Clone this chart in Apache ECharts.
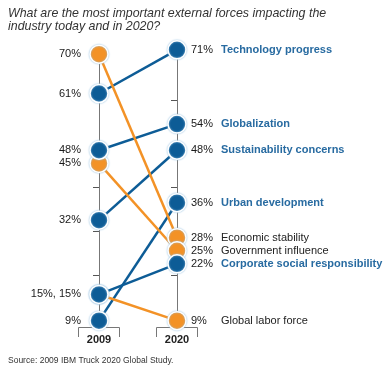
<!DOCTYPE html>
<html><head><meta charset="utf-8">
<script src="https://cdn.jsdelivr.net/npm/echarts@6/dist/echarts.min.js"></script>
<style>html,body{margin:0;padding:0;background:#fff}#c{width:389px;height:366px}</style>
</head><body><div id="c"></div>
<script>
const years = ['2009', '2020'];
const forces = ['Technology progress', 'Globalization', 'Sustainability concerns', 'Urban development',
  'Economic stability', 'Government influence', 'Corporate social responsibility', 'Global labor force'];
const values2009 = [61, 48, 32, 9, 70, 45, 15, 15];
const values2020 = [71, 54, 48, 36, 28, 25, 22, 9];
const groups = ['blue', 'blue', 'blue', 'blue', 'orange', 'orange', 'blue', 'orange'];
const tickValues = [9.5, 19.5, 29.5, 39.5, 49.5, 59.5];
const titleText = 'What are the most important external forces impacting the\nindustry today and in 2020?';
const sourceText = 'Source: 2009 IBM Truck 2020 Global Study.';

const COLORS = { blue: '#0d5c96', orange: '#f39226' };
const NAME_COLORS = { blue: '#286ba1', orange: '#222' };
const FONT = '"Liberation Sans", Arial, sans-serif';
const Y_MIN = 7.55, Y_MAX = 71;

const series = [];
// lines
forces.forEach((f, i) => {
  series.push({
    type: 'line', name: f, data: [values2009[i], values2020[i]],
    showSymbol: false, silent: true, z: 2,
    lineStyle: { width: 2.5, color: COLORS[groups[i]] }
  });
});
// dots: orange first then blue, lower values drawn later
['orange', 'blue'].forEach(g => {
  const pts = [];
  forces.forEach((f, i) => {
    if (groups[i] !== g) return;
    pts.push([0, values2009[i]]);
    pts.push([1, values2020[i]]);
  });
  pts.sort((a, b) => b[1] - a[1]);
  series.push({
    type: 'scatter', data: pts, symbolSize: 18, z: 5, silent: true,
    itemStyle: { color: COLORS[g], opacity: 1, borderColor: '#fff', borderWidth: 1.5,
      shadowBlur: 2, shadowColor: '#9cc4e2' }
  });
});
// left labels (grouped equal values)
const leftMap = {};
values2009.forEach(v => { (leftMap[v] = leftMap[v] || []).push(v + '%'); });
const leftData = Object.keys(leftMap).map(k => ({ value: [0, +k], text: leftMap[k].join(', ') }));
series.push({
  type: 'scatter', data: leftData, symbolSize: 18, z: 6, silent: true,
  itemStyle: { color: 'rgba(0,0,0,0)', opacity: 1 },
  label: { show: true, position: 'left', distance: 9, color: '#1a1a1a', fontSize: 11, fontFamily: FONT,
    formatter: p => p.data.text }
});
// right labels
series.push({
  type: 'scatter', z: 6, silent: true, symbolSize: 18, itemStyle: { color: 'rgba(0,0,0,0)', opacity: 1 },
  data: forces.map((f, i) => ({ value: [1, values2020[i]], name: f, g: groups[i] })),
  label: { show: true, position: 'right', distance: 5, fontFamily: FONT,
    formatter: p => '{p|' + p.value[1] + '%}{' + p.data.g + '|' + p.name + '}',
    rich: {
      p: { width: 30, fontSize: 11, color: '#1a1a1a', fontFamily: FONT },
      blue: { fontSize: 11, fontWeight: 'bold', color: NAME_COLORS.blue, fontFamily: FONT },
      orange: { fontSize: 11, color: NAME_COLORS.orange, fontFamily: FONT }
    } }
});

const yBase = {
  type: 'value', min: Y_MIN, max: Y_MAX, splitLine: { show: false },
  axisLabel: { show: false },
  axisLine: { show: true, lineStyle: { color: '#777', width: 1 } }
};

const chart = echarts.init(document.getElementById('c'), null, { renderer: 'canvas' });
chart.setOption({
  animation: false,
  backgroundColor: '#fff',
  title: [
    { text: titleText, left: 3, top: 2,
      textStyle: { fontSize: 12.4, fontStyle: 'italic', fontWeight: 'normal', color: '#333', lineHeight: 13, fontFamily: FONT } },
    { text: sourceText, left: 3, top: 351,
      textStyle: { fontSize: 8.5, fontWeight: 'normal', color: '#333', fontFamily: FONT } }
  ],
  grid: { left: 99, right: 212, top: 49.8, bottom: 39 },
  xAxis: {
    type: 'category', data: years, boundaryGap: false,
    axisLine: { show: false }, axisTick: { show: false }, splitLine: { show: false },
    axisLabel: { show: true, margin: 7, fontSize: 11, fontWeight: 'bold', color: '#222', fontFamily: FONT }
  },
  yAxis: [
    Object.assign({}, yBase, { position: 'left',
      axisTick: { show: true, length: 6, inside: false, customValues: tickValues, lineStyle: { color: '#555' } } }),
    Object.assign({}, yBase, { position: 'right',
      axisTick: { show: true, length: 6, inside: true, customValues: tickValues, lineStyle: { color: '#555' } } })
  ],
  series: series
});

// brackets under each year, positioned through the axes
const yb = chart.convertToPixel({ yAxisIndex: 0 }, Y_MIN);
const elements = years.map(yr => {
  const x = chart.convertToPixel({ xAxisIndex: 0 }, yr);
  return { type: 'polyline', silent: true, z: 1,
    shape: { points: [[x - 20.5, yb + 10], [x - 20.5, yb + 0.5], [x + 20.5, yb + 0.5], [x + 20.5, yb + 10]] },
    style: { stroke: '#777', lineWidth: 1, fill: null } };
});
chart.setOption({ graphic: { elements: elements } });
</script>
</body></html>
